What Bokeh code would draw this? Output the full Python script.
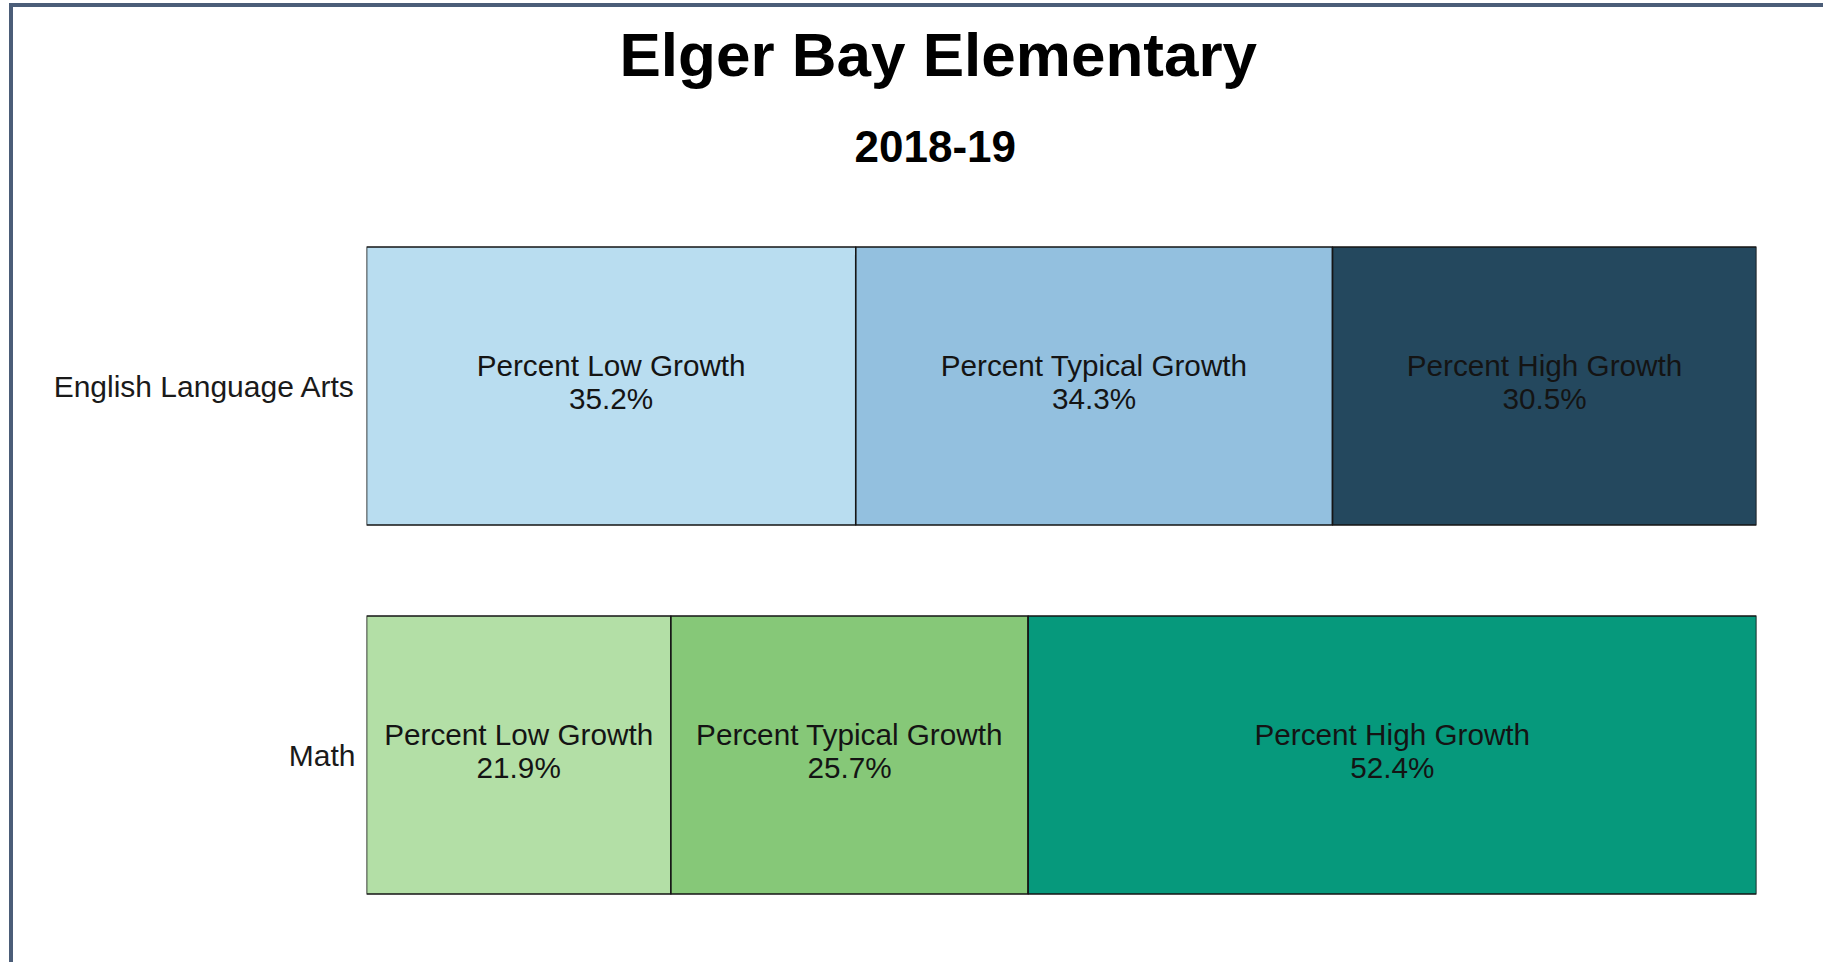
from bokeh.plotting import figure
from bokeh.models import ColumnDataSource, FactorRange, Range1d, Title
from bokeh.core.properties import value
from bokeh.embed import file_html
from bokeh.resources import INLINE

# ---- data ----
subjects = ["English Language Arts", "Math"]
growth_levels = ["Percent Low Growth", "Percent Typical Growth", "Percent High Growth"]
ela_values = [35.2, 34.3, 30.5]
math_values = [21.9, 25.7, 52.4]
ela_colors = ["#b9ddf0", "#93c0df", "#24485e"]
math_colors = ["#b3dfa6", "#86c878", "#06997c"]
title_text = "Elger Bay Elementary"
subtitle_text = "2018-19"

FONT = "Liberation Sans"

# build table
ys, lefts, rights, colors, labels, mids = [], [], [], [], [], []
for subj, vals, cols in [(subjects[0], ela_values, ela_colors), (subjects[1], math_values, math_colors)]:
    start = 0.0
    for lvl, v, c in zip(growth_levels, vals, cols):
        ys.append(subj)
        lefts.append(start)
        rights.append(start + v)
        mids.append(start + v / 2)
        colors.append(c)
        labels.append(f"{lvl}\n{v:.1f}%")
        start += v

src = ColumnDataSource(dict(y=ys, left=lefts, right=rights, color=colors, label=labels, mid=mids))

p = figure(
    width=1814, height=959,
    y_range=FactorRange(factors=[subjects[1], subjects[0]]),
    x_range=Range1d(0, 100),
    x_axis_location=None,
    output_backend="svg", toolbar_location=None,
    min_border_left=353, min_border_right=71, min_border_top=194, min_border_bottom=27,
    styles={"margin-left": "9px", "margin-top": "3px",
            "border-left": "4px solid #4b5d78", "border-top": "4px solid #4b5d78"},
)
p.outline_line_color = None
p.grid.visible = False
p.background_fill_color = "white"
p.border_fill_color = "white"

p.hbar(y="y", left="left", right="right", height=0.753, fill_color="color",
       line_color="#151515", line_width=1.6, source=src)

p.text(x="mid", y="y", text="label", source=src, text_align="center", text_baseline="middle",
       text_font=value(FONT), text_font_size="29.7px", text_color="#141414",
       text_line_height=1.0, y_offset=-4)

yax = p.yaxis[0]
yax.axis_line_color = None
yax.major_tick_line_color = None
yax.minor_tick_line_color = None
yax.major_label_text_font = FONT
yax.major_label_text_font_size = "30px"
yax.major_label_text_color = "#1a1a1a"
yax.major_label_standoff = 5

sub = Title(text=subtitle_text, align="left", offset=488, standoff=80,
            text_font=FONT, text_font_style="bold", text_font_size="44px", text_color="black")
main = Title(text=title_text, align="left", offset=253, standoff=0,
             text_font=FONT, text_font_style="bold", text_font_size="62px", text_color="black")
p.add_layout(sub, "above")
p.add_layout(main, "above")

open("out.html", "w").write(file_html(p, INLINE))
